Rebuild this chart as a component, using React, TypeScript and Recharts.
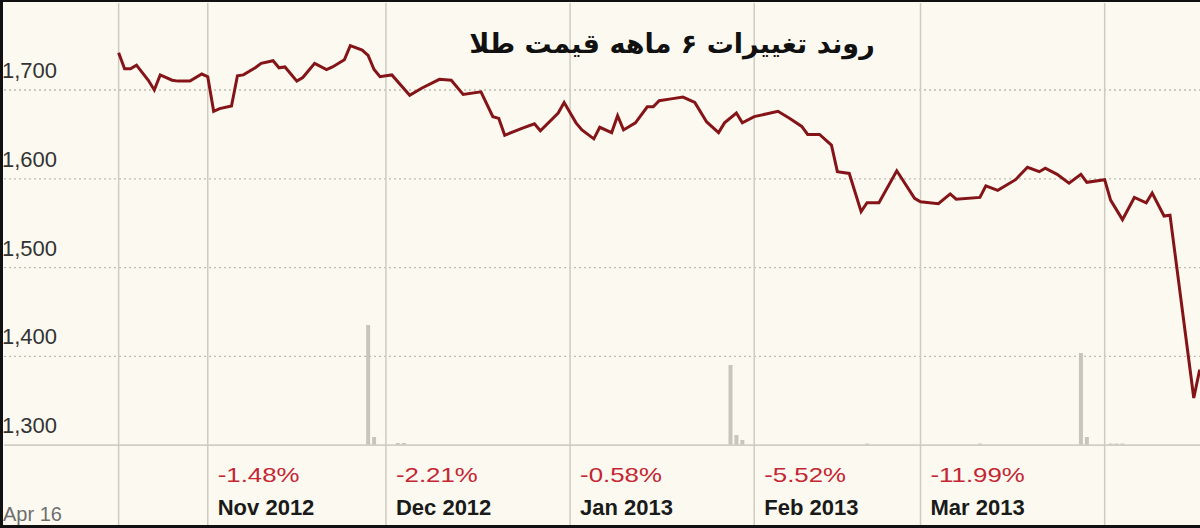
import React from 'react';
import { ComposedChart, Line, Bar, XAxis, YAxis, ReferenceLine } from 'recharts';

const title = 'روند تغییرات ۶ ماهه قیمت طلا';
const cornerLabel = 'Apr 16';

const priceDates = [
  '2012-10-17', '2012-10-18', '2012-10-19', '2012-10-20', '2012-10-22', '2012-10-23', '2012-10-24',
  '2012-10-26', '2012-10-27', '2012-10-29', '2012-10-31', '2012-11-01', '2012-11-02', '2012-11-03',
  '2012-11-05', '2012-11-06', '2012-11-07', '2012-11-09', '2012-11-10', '2012-11-12', '2012-11-13',
  '2012-11-14', '2012-11-16', '2012-11-17', '2012-11-19', '2012-11-21', '2012-11-22', '2012-11-24',
  '2012-11-25', '2012-11-27', '2012-11-28', '2012-11-29', '2012-11-30', '2012-12-01', '2012-12-02',
  '2012-12-05', '2012-12-07', '2012-12-10', '2012-12-12', '2012-12-14', '2012-12-17', '2012-12-19',
  '2012-12-20', '2012-12-21', '2012-12-24', '2012-12-26', '2012-12-27', '2012-12-30', '2012-12-31',
  '2013-01-02', '2013-01-03', '2013-01-05', '2013-01-06', '2013-01-08', '2013-01-09', '2013-01-10',
  '2013-01-12', '2013-01-14', '2013-01-15', '2013-01-16', '2013-01-18', '2013-01-20', '2013-01-22',
  '2013-01-24', '2013-01-26', '2013-01-27', '2013-01-29', '2013-01-30', '2013-02-01', '2013-02-03',
  '2013-02-05', '2013-02-07', '2013-02-09', '2013-02-10', '2013-02-12', '2013-02-14', '2013-02-15',
  '2013-02-17', '2013-02-19', '2013-02-20', '2013-02-22', '2013-02-25', '2013-02-28', '2013-03-01',
  '2013-03-04', '2013-03-06', '2013-03-07', '2013-03-11', '2013-03-12', '2013-03-14', '2013-03-17',
  '2013-03-19', '2013-03-21', '2013-03-22', '2013-03-24', '2013-03-26', '2013-03-28', '2013-03-29',
  '2013-04-01', '2013-04-02', '2013-04-04', '2013-04-06', '2013-04-08', '2013-04-09', '2013-04-11',
  '2013-04-12', '2013-04-16', '2013-04-17',
];

const prices = [
  1742, 1724, 1724, 1728, 1711, 1700, 1717,
  1711, 1710, 1710, 1718, 1715, 1676, 1679,
  1682, 1716, 1717, 1725, 1730, 1733, 1725,
  1726, 1710, 1714, 1730, 1723, 1726, 1734,
  1750, 1745, 1739, 1723, 1715, 1716, 1717,
  1694, 1702, 1712, 1711, 1695, 1698, 1670,
  1668, 1649, 1657, 1662, 1654, 1674, 1686,
  1663, 1655, 1645, 1658, 1652, 1671, 1655,
  1663, 1681, 1681, 1688, 1690, 1692, 1686,
  1664, 1652, 1663, 1674, 1663, 1670, 1673,
  1676, 1668, 1659, 1650, 1650, 1638, 1608,
  1606, 1563, 1573, 1573, 1609, 1578, 1574,
  1572, 1583, 1577, 1579, 1592, 1587, 1599,
  1613, 1608, 1612, 1605, 1595, 1605, 1596,
  1599, 1576, 1554, 1579, 1573, 1584, 1558,
  1559, 1353, 1385,
];

const volumeDates = [
  '2012-11-28', '2012-11-29', '2012-12-03', '2012-12-04', '2013-01-28', '2013-01-29', '2013-01-30',
  '2013-02-20', '2013-03-11', '2013-03-28', '2013-03-29', '2013-04-02', '2013-04-03', '2013-04-04',
];
const volumes = [240, 16, 4, 4, 160, 20, 10, 3, 3, 184, 16, 3, 3, 3];

const startDate = '2012-10-17';
const monthStarts = ['2012-11-01', '2012-12-01', '2013-01-01', '2013-02-01', '2013-03-01', '2013-04-01'];
const monthLabels = ['Nov 2012', 'Dec 2012', 'Jan 2013', 'Feb 2013', 'Mar 2013', ''];
const monthChanges = ['-1.48%', '-2.21%', '-0.58%', '-5.52%', '-11.99%', ''];

const yTicks = [1300, 1400, 1500, 1600, 1700];

const ORIGIN = Date.UTC(2012, 9, 1);
const dayOf = (s: string) => {
  const [y, m, d] = s.split('-').map(Number);
  return Math.round((Date.UTC(y, m - 1, d) - ORIGIN) / 86400000);
};

const byDay = new Map<number, any>();
priceDates.forEach((d, i) => {
  const k = dayOf(d);
  byDay.set(k, { ...(byDay.get(k) || { day: k }), price: prices[i] });
});
volumeDates.forEach((d, i) => {
  const k = dayOf(d);
  byDay.set(k, { ...(byDay.get(k) || { day: k }), vol: volumes[i] });
});
const data = Array.from(byDay.values()).sort((a, b) => a.day - b.day);

const BG = '#fcfaf0';
const FONT = '"Liberation Sans", Arial, sans-serif';

const PriceLabel = (value: number) => (props: any) => {
  const vb = props.viewBox || {};
  return (
    <text x={2} y={(vb.y ?? 0) - 12} fill="#333" fontSize={22} fontFamily={FONT}>
      {value.toLocaleString('en-US')}
    </text>
  );
};

const MonthLabel = (idx: number) => (props: any) => {
  const vb = props.viewBox || {};
  const x = (vb.x ?? 0) + 10;
  if (!monthLabels[idx]) return null;
  return (
    <g>
      <g transform={`translate(${x},482) scale(1.23,1)`}>
        <text x={0} y={0} fill="#c42634" fontSize={21} fontFamily={FONT}>
          {monthChanges[idx]}
        </text>
      </g>
      <text x={x} y={515} fill="#1a1a1a" fontSize={22} fontWeight="bold" fontFamily={FONT}>
        {monthLabels[idx]}
      </text>
    </g>
  );
};

export default function App() {
  return (
    <div style={{ position: 'absolute', left: 0, top: 0, width: 1200, height: 528, background: BG, overflow: 'hidden' }}>
      <ComposedChart width={1200} height={528} data={data} margin={{ top: 3, right: 0, bottom: 3, left: 4 }}>
        <XAxis dataKey="day" type="number" domain={[-3.3, 198.05]} hide allowDataOverflow />
        <YAxis yAxisId="p" domain={[1210, 1798]} ticks={yTicks} hide allowDataOverflow />
        <YAxis yAxisId="v" domain={[-160, 884]} hide allowDataOverflow />
        {yTicks.map((t) => (
          <ReferenceLine
            key={'h' + t}
            yAxisId="p"
            y={t}
            stroke={t === 1300 ? '#d2cec5' : '#bfbbb2'}
            strokeWidth={t === 1300 ? 1.6 : 1.3}
            strokeDasharray={t === 1300 ? undefined : '2 3'}
            label={PriceLabel(t)}
          />
        ))}
        <ReferenceLine yAxisId="p" x={dayOf(startDate)} stroke="#cfcbc2" strokeWidth={1.5} />
        {monthStarts.map((m, i) => (
          <ReferenceLine
            key={'v' + m}
            yAxisId="p"
            x={dayOf(m)}
            stroke="#cfcbc2"
            strokeWidth={1.5}
            label={MonthLabel(i)}
          />
        ))}
        <Bar yAxisId="v" dataKey="vol" fill="#c9c5bc" barSize={4} isAnimationActive={false} />
        <Line
          yAxisId="p"
          dataKey="price"
          type="linear"
          stroke="#841418"
          strokeWidth={3}
          dot={false}
          connectNulls
          isAnimationActive={false}
        />
      </ComposedChart>
      <svg width={1200} height={528} style={{ position: 'absolute', left: 0, top: 0, pointerEvents: 'none' }}>
        <text x={672} y={53} textAnchor="middle" direction="rtl" fontSize={27} fontWeight="bold" fill="#111" fontFamily='"DejaVu Sans", sans-serif'>
          {title}
        </text>
        <text x={3} y={521} fill="#6e6e6e" fontSize={20} fontFamily={FONT}>
          {cornerLabel}
        </text>
        <rect x={0} y={0} width={1200} height={2} fill="#111" />
        <rect x={0} y={0} width={3} height={528} fill="#111" />
        <rect x={0} y={525} width={1200} height={3} fill="#111" />
      </svg>
    </div>
  );
}
